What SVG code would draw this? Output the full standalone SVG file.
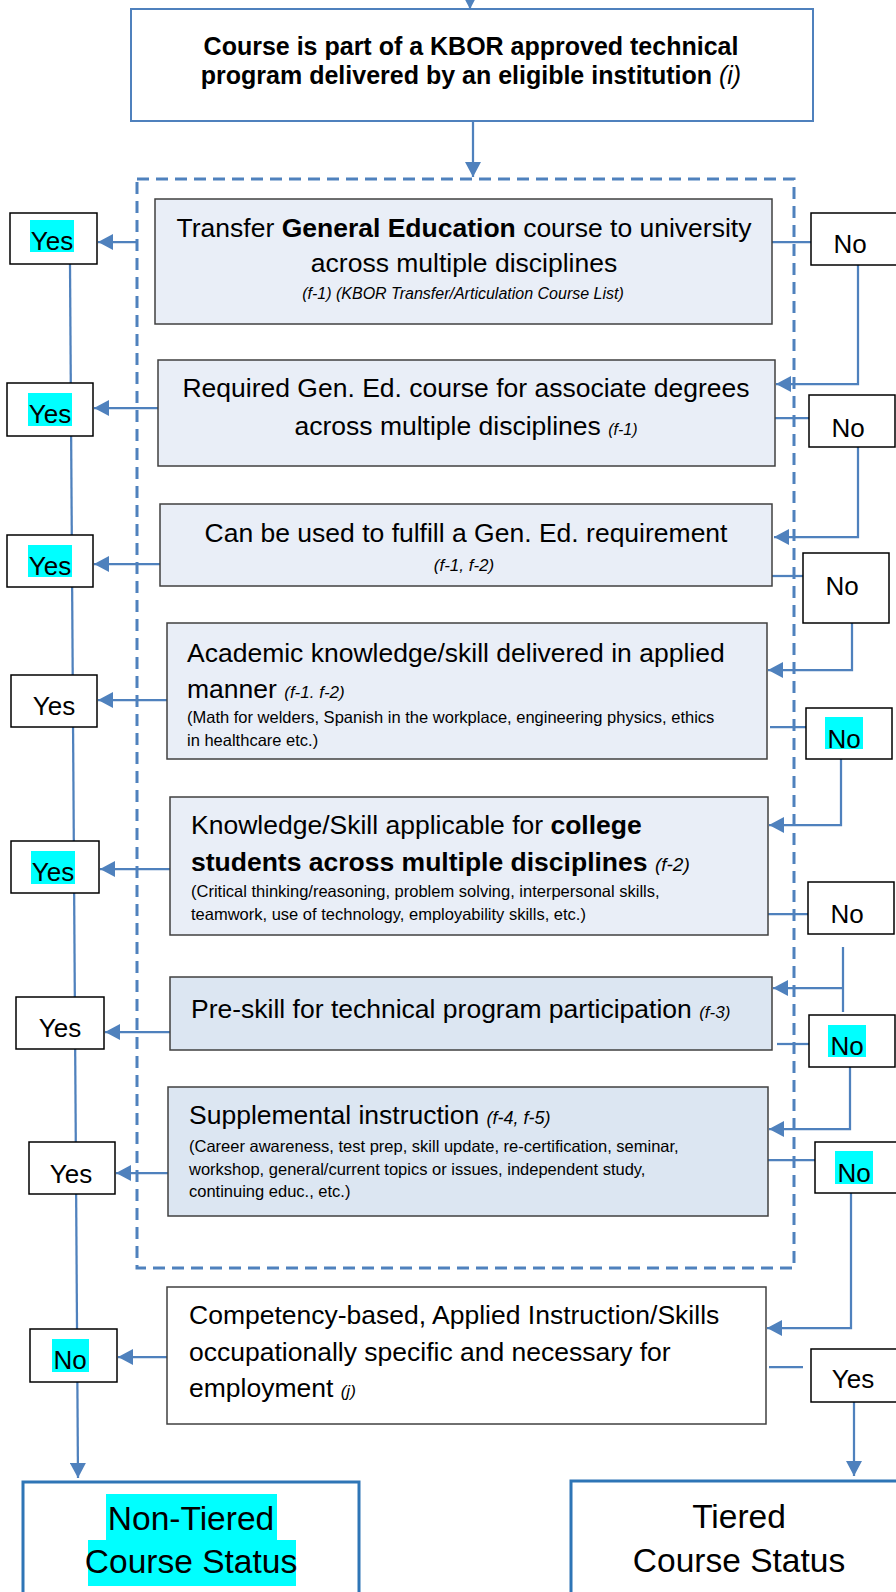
<svg xmlns="http://www.w3.org/2000/svg" width="896" height="1592" viewBox="0 0 896 1592">
<defs>
<marker id="ah" markerUnits="userSpaceOnUse" markerWidth="16" markerHeight="16" refX="15" refY="8" orient="auto"><path d="M0,0 L15,8 L0,16 z" fill="#4F81BD"/></marker>
<style>
.conn{stroke:#4F81BD;stroke-width:2.25;fill:none}
.arr{marker-end:url(#ah)}
.dash{stroke:#4F81BD;stroke-width:3;fill:none;stroke-dasharray:12 7}
.q1{fill:#E9EEF7;stroke:#404040;stroke-width:1.5}
.q2{fill:#DCE6F2;stroke:#404040;stroke-width:1.5}
.wb{fill:#fff;stroke:#404040;stroke-width:1.5}
.ans{fill:#fff;stroke:#000;stroke-width:1.5}
.topb{fill:#fff;stroke:#4F81BD;stroke-width:2}
.fin{fill:#fff;stroke:#2E75B6;stroke-width:3}
.hl{fill:#00FFFF}
text{font-family:'Liberation Sans',Arial,sans-serif;fill:#000}
.big{font-size:26.5px}
.tb{font-size:25px;font-weight:bold}
.sm{font-size:16.5px}
.it{font-style:italic;font-weight:normal}
.b{font-weight:bold}
.yn{font-size:26px;text-anchor:middle}
.ft{font-size:33.5px;text-anchor:middle}
.c{text-anchor:middle}
</style>
</defs>
<rect width="896" height="1592" fill="#fff"/>

<g id="connectors">
<line class="conn arr" x1="470" y1="-10" x2="470" y2="9"/>
<line class="conn arr" x1="473" y1="121" x2="473" y2="177"/>
<line class="conn arr" x1="70" y1="264" x2="78" y2="1478"/>
<!-- yes arrows -->
<line class="conn arr" x1="138" y1="242" x2="98" y2="242"/>
<line class="conn arr" x1="158" y1="408" x2="94" y2="408"/>
<line class="conn arr" x1="160" y1="564" x2="94" y2="564"/>
<line class="conn arr" x1="167" y1="700" x2="98" y2="700"/>
<line class="conn arr" x1="170" y1="869" x2="100" y2="869"/>
<line class="conn arr" x1="170" y1="1032" x2="105" y2="1032"/>
<line class="conn arr" x1="168" y1="1173" x2="116" y2="1173"/>
<line class="conn arr" x1="167" y1="1357" x2="118" y2="1357"/>
<!-- to no boxes -->
<line class="conn" x1="772" y1="242" x2="811" y2="242"/>
<line class="conn" x1="775" y1="418" x2="809" y2="418"/>
<line class="conn" x1="772" y1="576" x2="803" y2="576"/>
<line class="conn" x1="770" y1="727" x2="806" y2="727"/>
<line class="conn" x1="768" y1="914" x2="808" y2="914"/>
<line class="conn" x1="777" y1="1044" x2="809" y2="1044"/>
<line class="conn" x1="768" y1="1160" x2="815" y2="1160"/>
<line class="conn" x1="769" y1="1367" x2="803" y2="1367"/>
<!-- no to next question -->
<polyline class="conn arr" points="858,265 858,384 776,384"/>
<polyline class="conn arr" points="858,447 858,537 774,537"/>
<polyline class="conn arr" points="852,623 852,670 768,670"/>
<polyline class="conn arr" points="841,759 841,825 769,825"/>
<line class="conn" x1="843" y1="947" x2="843" y2="1012"/>
<line class="conn arr" x1="843" y1="988" x2="773" y2="988"/>
<polyline class="conn arr" points="850,1067 850,1129 769,1129"/>
<polyline class="conn arr" points="851,1193 851,1328 767,1328"/>
<line class="conn arr" x1="854" y1="1402" x2="854" y2="1476"/>
</g>

<rect id="group-box" class="dash" x="137" y="179" width="657" height="1089"/>

<g id="start">
<rect class="topb" x="131" y="9" width="682" height="112"/>
<text class="tb c" x="471" y="55">Course is part of a KBOR approved technical</text>
<text class="tb c" x="471" y="84">program delivered by an eligible institution <tspan class="it">(i)</tspan></text>
</g>

<g id="q1">
<rect class="q1" x="155" y="199" width="617" height="125"/>
<text class="big c" x="464" y="237">Transfer <tspan class="b">General Education</tspan> course to university</text>
<text class="big c" x="464" y="272">across multiple disciplines</text>
<text class="it c" style="font-size:16px" x="463" y="299">(f-1) (KBOR Transfer/Articulation Course List)</text>
</g>

<g id="q2">
<rect class="q1" x="158" y="360" width="617" height="106"/>
<text class="big c" x="466" y="397">Required Gen. Ed. course for associate degrees</text>
<text class="big c" x="466" y="435">across multiple disciplines <tspan class="it" style="font-size:16px">(f-1)</tspan></text>
</g>

<g id="q3">
<rect class="q1" x="160" y="504" width="612" height="82"/>
<text class="big c" x="466" y="542">Can be used to fulfill a Gen. Ed. requirement</text>
<text class="it c" style="font-size:17px" x="464" y="571">(f-1, f-2)</text>
</g>

<g id="q4">
<rect class="q1" x="167" y="623" width="600" height="136"/>
<text class="big" x="187" y="662">Academic knowledge/skill delivered in applied</text>
<text class="big" x="187" y="698">manner <tspan class="it" style="font-size:17px">(f-1. f-2)</tspan></text>
<text class="sm" x="187" y="723">(Math for welders, Spanish in the workplace, engineering physics, ethics</text>
<text class="sm" x="187" y="746">in healthcare etc.)</text>
</g>

<g id="q5">
<rect class="q1" x="170" y="797" width="598" height="138"/>
<text class="big" x="191" y="834">Knowledge/Skill applicable for <tspan class="b">college</tspan></text>
<text class="big" x="191" y="871"><tspan class="b">students across multiple disciplines</tspan> <tspan class="it" style="font-size:19px">(f-2)</tspan></text>
<text class="sm" x="191" y="897">(Critical thinking/reasoning, problem solving, interpersonal skills,</text>
<text class="sm" x="191" y="920">teamwork, use of technology, employability skills, etc.)</text>
</g>

<g id="q6">
<rect class="q2" x="170" y="977" width="602" height="73"/>
<text class="big" x="191" y="1018">Pre-skill for technical program participation <tspan class="it" style="font-size:17px">(f-3)</tspan></text>
</g>

<g id="q7">
<rect class="q2" x="168" y="1087" width="600" height="129"/>
<text class="big" x="189" y="1124">Supplemental instruction <tspan class="it" style="font-size:18px">(f-4, f-5)</tspan></text>
<text class="sm" x="189" y="1152">(Career awareness, test prep, skill update, re-certification, seminar,</text>
<text class="sm" x="189" y="1175">workshop, general/current topics or issues, independent study,</text>
<text class="sm" x="189" y="1197">continuing educ., etc.)</text>
</g>

<g id="q8">
<rect class="wb" x="167" y="1287" width="599" height="137"/>
<text class="big" x="189" y="1324">Competency-based, Applied Instruction/Skills</text>
<text class="big" x="189" y="1361">occupationally specific and necessary for</text>
<text class="big" x="189" y="1397">employment <tspan class="it" style="font-size:17px">(j)</tspan></text>
</g>

<g id="yes1"><rect class="ans" x="10" y="213" width="87" height="51"/><rect class="hl" x="30" y="220" width="44" height="32"/><text class="yn" x="52" y="250">Yes</text></g>
<g id="yes2"><rect class="ans" x="7" y="383" width="86" height="53"/><rect class="hl" x="28" y="393" width="44" height="33"/><text class="yn" x="50" y="423">Yes</text></g>
<g id="yes3"><rect class="ans" x="7" y="535" width="86" height="52"/><rect class="hl" x="28" y="545" width="44" height="32"/><text class="yn" x="50" y="575">Yes</text></g>
<g id="yes4"><rect class="ans" x="11" y="675" width="86" height="52"/><text class="yn" x="54" y="715">Yes</text></g>
<g id="yes5"><rect class="ans" x="11" y="841" width="88" height="52"/><rect class="hl" x="31" y="851" width="44" height="33"/><text class="yn" x="53" y="881">Yes</text></g>
<g id="yes6"><rect class="ans" x="16" y="997" width="88" height="52"/><text class="yn" x="60" y="1037">Yes</text></g>
<g id="yes7"><rect class="ans" x="29" y="1142" width="86" height="52"/><text class="yn" x="71" y="1183">Yes</text></g>
<g id="no8"><rect class="ans" x="30" y="1329" width="87" height="53"/><rect class="hl" x="52" y="1339" width="37" height="33"/><text class="yn" x="70" y="1369">No</text></g>

<g id="no1"><rect class="ans" x="811" y="213" width="90" height="52"/><text class="yn" x="850" y="253">No</text></g>
<g id="no2"><rect class="ans" x="809" y="395" width="86" height="52"/><text class="yn" x="848" y="437">No</text></g>
<g id="no3"><rect class="ans" x="803" y="553" width="86" height="70"/><text class="yn" x="842" y="595">No</text></g>
<g id="no4"><rect class="ans" x="806" y="708" width="86" height="51"/><rect class="hl" x="825" y="717" width="38" height="32"/><text class="yn" x="844" y="748">No</text></g>
<g id="no5"><rect class="ans" x="808" y="882" width="86" height="52"/><text class="yn" x="847" y="923">No</text></g>
<g id="no6"><rect class="ans" x="809" y="1015" width="86" height="52"/><rect class="hl" x="828" y="1025" width="38" height="32"/><text class="yn" x="847" y="1055">No</text></g>
<g id="no7"><rect class="ans" x="815" y="1142" width="90" height="51"/><rect class="hl" x="835" y="1151" width="38" height="33"/><text class="yn" x="854" y="1182">No</text></g>
<g id="yes8"><rect class="ans" x="811" y="1349" width="90" height="53"/><text class="yn" x="853" y="1388">Yes</text></g>

<g id="non-tiered">
<rect class="fin" x="23" y="1482" width="336" height="130"/>
<rect class="hl" x="106" y="1494" width="171" height="46"/>
<rect class="hl" x="88" y="1540" width="208" height="46"/>
<text class="ft" x="191" y="1530">Non-Tiered</text>
<text class="ft" x="191" y="1573">Course Status</text>
</g>

<g id="tiered">
<rect class="fin" x="571" y="1481" width="340" height="130"/>
<text class="ft" x="739" y="1528">Tiered</text>
<text class="ft" x="739" y="1572">Course Status</text>
</g>
</svg>
